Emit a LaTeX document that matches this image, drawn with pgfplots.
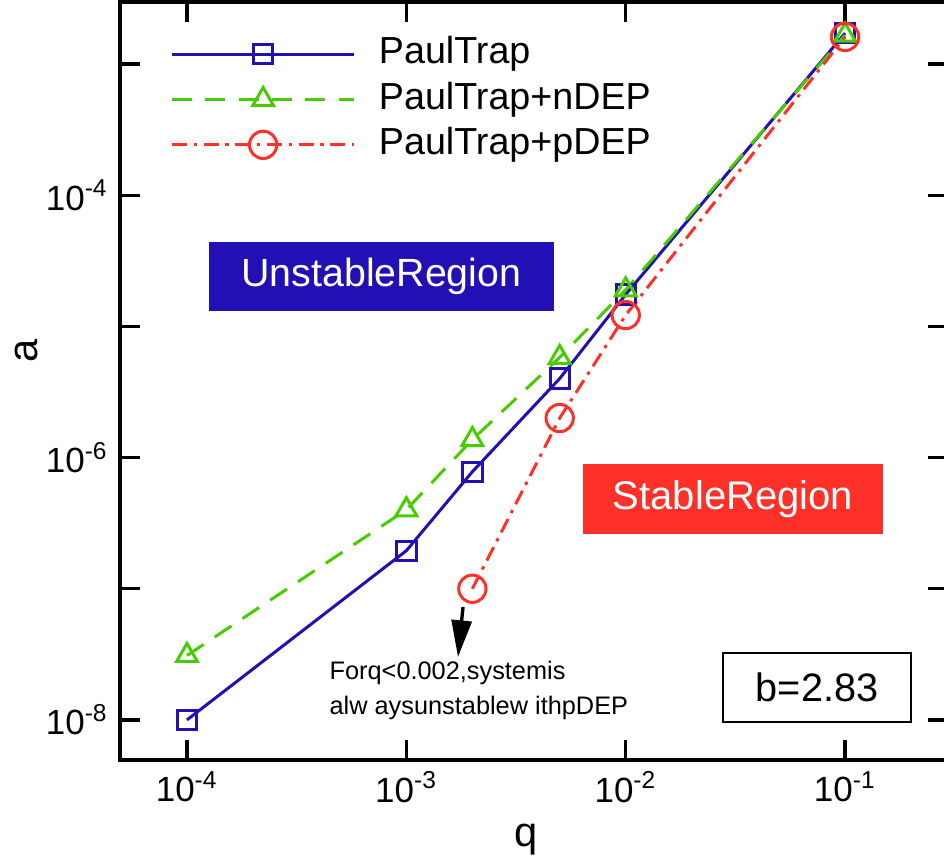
\documentclass[border=0pt]{standalone}
\usepackage{fontspec}
\setmainfont{Liberation Sans}
\usepackage{pgfplots}
\pgfplotsset{compat=1.18}
\usetikzlibrary{arrows.meta}

\definecolor{ptblue}{RGB}{33,17,181}
\definecolor{ndgreen}{RGB}{72,204,0}
\definecolor{pdred}{RGB}{255,48,40}

\begin{document}
\begin{tikzpicture}
\begin{axis}[
  name=ax,
  xmode=log, ymode=log,
  scale only axis,
  width=248.4pt, height=227.4pt,
  xmin=4.95e-5, xmax=0.2944,
  ymin=4.95e-9, ymax=2.97e-3,
  axis line style={line width=1.2pt},
  tick style={line width=1pt, black},
  tick align=inside,
  major tick length=6pt,
  minor tick length=0pt,
  xtick={1e-4,1e-3,1e-2,1e-1},
  xticklabels={10\textsuperscript{-4},10\textsuperscript{-3},10\textsuperscript{-2},10\textsuperscript{-1}},
  ytick={1e-8,1e-7,1e-6,1e-5,1e-4,1e-3},
  yticklabels={10\textsuperscript{-8},,10\textsuperscript{-6},,10\textsuperscript{-4},},
  ticklabel style={font=\fontsize{10.5}{12}\selectfont},
  /pgf/number format/assume math mode=true,
  xlabel={q}, ylabel={a},
  label style={font=\fontsize{12.5}{14}\selectfont},
  xlabel style={at={([yshift=-24pt]rel axis cs:0.49,0)}, anchor=center},
  ylabel style={at={([xshift=-28pt]rel axis cs:0,0.54)}, anchor=center},
  legend cell align=left,
  legend style={draw=none, fill=none, at={(rel axis cs:0,1)}, anchor=north west,
    xshift=12pt, yshift=-7pt, font=\fontsize{11.3}{13}\selectfont, row sep=0.7pt,
    nodes={inner sep=1pt, text height=8.4pt, text depth=2.5pt},
    /tikz/every odd column/.append style={column sep=6pt}},
  legend image code/.code={\draw[mark repeat=2,mark phase=2,#1] plot coordinates {(0pt,0pt) (27.3pt,0pt) (54.6pt,0pt)};},
]
\addplot[ptblue, line width=0.9pt, mark=square, mark size=2.9pt, mark options={solid}] coordinates {
 (1e-4,1e-8) (1e-3,1.95e-7) (2e-3,7.8e-7) (5e-3,4.0e-6) (1e-2,1.75e-5) (1e-1,1.72e-3)};
\addplot[ndgreen, line width=0.9pt, dash pattern=on 6pt off 4pt, mark=triangle, mark size=3.6pt, mark options={solid}] coordinates {
 (1e-4,3.1e-8) (1e-3,4.0e-7) (2e-3,1.37e-6) (5e-3,5.8e-6) (1e-2,1.9e-5) (1e-1,1.66e-3)};
\addplot[pdred, line width=0.9pt, dash pattern=on 4.5pt off 2pt on 1pt off 2pt, mark=o, mark size=4.1pt, mark options={solid}] coordinates {
 (2e-3,1e-7) (5e-3,2.0e-6) (1e-2,1.22e-5) (1e-1,1.61e-3)};
\legend{PaulTrap, PaulTrap+nDEP, PaulTrap+pDEP}

\node[fill=ptblue, text=white, minimum width=103.5pt, minimum height=20.7pt, inner sep=0pt,
  font=\fontsize{11.8}{13}\selectfont] at (rel axis cs:0.3158,0.6379) {UnstableRegion};
\node[fill=pdred, text=white, minimum width=90pt, minimum height=21pt, inner sep=0pt,
  font=\fontsize{12}{13}\selectfont] at (rel axis cs:0.7403,0.3443) {StableRegion};
\node[draw=black, line width=0.5pt, minimum width=56.4pt, minimum height=20.7pt, inner sep=0pt,
  font=\fontsize{11.9}{13}\selectfont] at (rel axis cs:0.8418,0.0956) {b=2.83};
\node[anchor=north west, inner sep=0pt, align=left, font=\fontsize{7.6}{10.5}\selectfont]
  at (rel axis cs:0.2524,0.1319) {Forq<0.002,systemis\\alw aysunstablew ithpDEP};
\draw[line width=1pt, -{Triangle[length=11pt,width=6pt]}]
  (rel axis cs:0.4143,0.2018) -- (rel axis cs:0.4082,0.1359);
\end{axis}
\pgfresetboundingbox
\path ([xshift=-36pt,yshift=-30.3pt]ax.south west) rectangle ([xshift=-1.2pt,yshift=0.6pt]ax.north east);
\end{tikzpicture}
\end{document}
